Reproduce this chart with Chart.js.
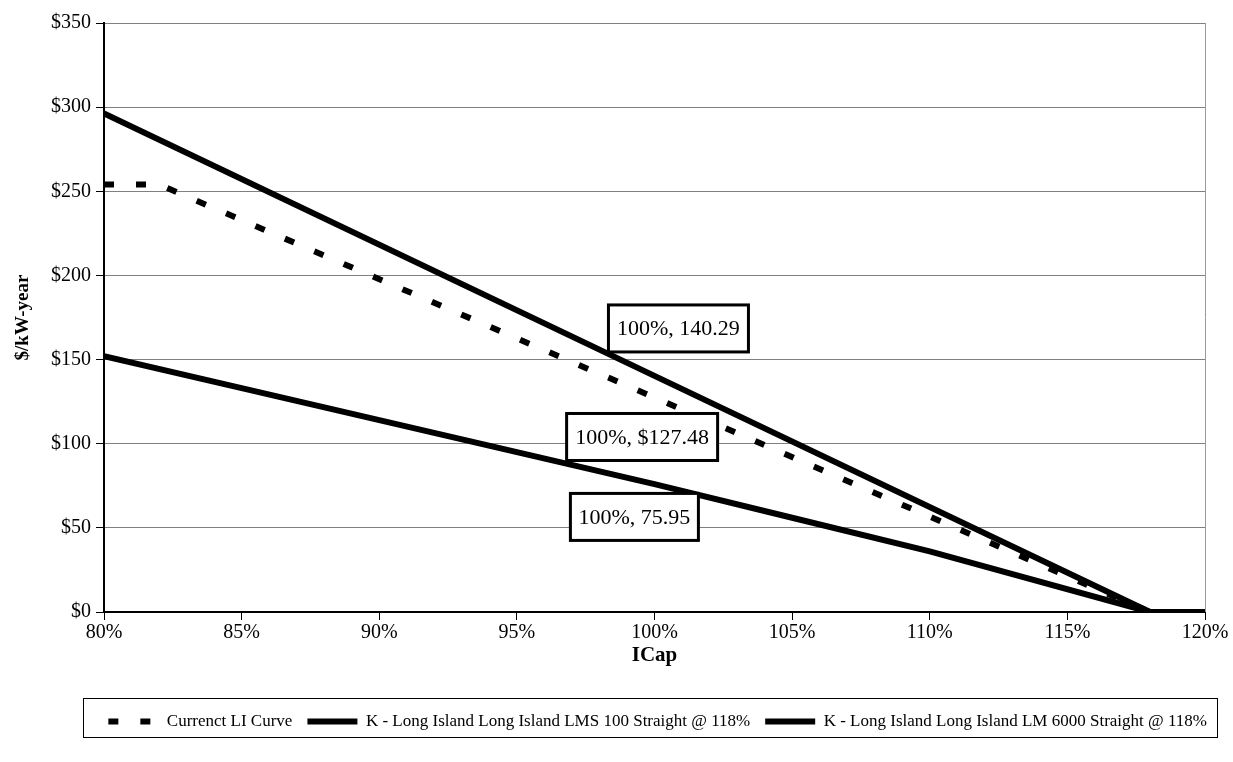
<!DOCTYPE html>
<html>
<head>
<meta charset="utf-8">
<script src="https://cdn.jsdelivr.net/npm/chart.js@4.4.0/dist/chart.umd.min.js"></script>
<style>
  html, body { margin: 0; padding: 0; background: #fff; }
  #wrap { width: 1233px; height: 762px; }
</style>
</head>
<body>
<div id="wrap"><canvas id="c" width="1233" height="762"></canvas></div>
<script>
// values (x = ICap %, y = $/kW-year)
const liCurveX = [80, 82, 100, 118, 120];
const liCurveY = [254, 254, 127.48, 0, 0];
const lms100X = [80, 100, 118, 120];
const lms100Y = [296.2, 140.29, 0, 0];
const lm6000X = [80, 85, 90, 95, 100, 105, 110, 118, 120];
const lm6000Y = [152, 133, 114, 95, 75.95, 56, 36, 0, 0];
const seriesNames = [
  "Currenct LI Curve",
  "K - Long Island Long Island LMS 100 Straight @ 118%",
  "K - Long Island Long Island LM 6000 Straight @ 118%"
];
const labelTexts = ["100%, 140.29", "100%, $127.48", "100%, 75.95"];

const serif = "'Liberation Serif', 'Times New Roman', serif";

function pts(xs, ys) { return xs.map((x, i) => ({ x: x, y: ys[i] })); }

// where the callout boxes sit, in axis units
const calloutPos = [
  { x: 100.87, y: 168.5, w: 140 },
  { x: 99.55, y: 104, w: 151 },
  { x: 99.27, y: 56.5, w: 128 }
];

const calloutPlugin = {
  id: 'callouts',
  afterDatasetsDraw(chart) {
    const ctx = chart.ctx, xs = chart.scales.x, ys = chart.scales.y;
    ctx.save();
    ctx.font = "22px " + serif;
    ctx.textAlign = 'center';
    ctx.textBaseline = 'middle';
    calloutPos.forEach((p, i) => {
      const cx = xs.getPixelForValue(p.x), cy = ys.getPixelForValue(p.y);
      const w = p.w, h = 47;
      ctx.fillStyle = '#fff';
      ctx.fillRect(cx - w / 2, cy - h / 2, w, h);
      ctx.lineWidth = 3;
      ctx.strokeStyle = '#000';
      ctx.strokeRect(cx - w / 2, cy - h / 2, w, h);
      ctx.fillStyle = '#000';
      ctx.fillText(labelTexts[i], cx, cy + 1);
    });
    ctx.restore();
  }
};

const framePlugin = {
  id: 'frame',
  afterLayout(chart) {
    // legend row sits a little further right than the plot edge
    chart.legend.right += 17;
  },
  beforeDatasetsDraw(chart) {
    const a = chart.chartArea, ctx = chart.ctx;
    ctx.save();
    ctx.strokeStyle = '#999';
    ctx.lineWidth = 1;
    ctx.beginPath();
    ctx.moveTo(a.right + 0.5, a.top);
    ctx.lineTo(a.right + 0.5, a.bottom);
    ctx.stroke();
    ctx.restore();
  },
  afterDraw(chart) {
    const lg = chart.legend, ctx = chart.ctx;
    ctx.save();
    ctx.strokeStyle = '#000';
    ctx.lineWidth = 1;
    ctx.strokeRect(83.5, lg.top + 0.5, 1134, lg.height - 3);
    ctx.restore();
  }
};

new Chart(document.getElementById('c'), {
  type: 'line',
  data: {
    datasets: [
      {
        label: seriesNames[0],
        data: pts(liCurveX, liCurveY),
        borderColor: '#000',
        backgroundColor: '#000',
        borderWidth: 6,
        borderDash: [10, 22],
        borderCapStyle: 'butt',
        pointRadius: 0,
        tension: 0
      },
      {
        label: seriesNames[1],
        data: pts(lms100X, lms100Y),
        borderColor: '#000',
        backgroundColor: '#000',
        borderWidth: 6,
        pointRadius: 0,
        tension: 0
      },
      {
        label: seriesNames[2],
        data: pts(lm6000X, lm6000Y),
        borderColor: '#000',
        backgroundColor: '#000',
        borderWidth: 6,
        pointRadius: 0,
        tension: 0
      }
    ]
  },
  options: {
    responsive: false,
    animation: false,
    layout: { padding: { left: 0, right: 28, top: 23, bottom: 22 } },
    plugins: {
      legend: {
        position: 'bottom',
        align: 'end',
        labels: {
          color: '#000',
          font: { family: serif, size: 17 },
          usePointStyle: true,
          pointStyle: 'line',
          pointStyleWidth: 50,
          padding: 15,
          generateLabels(chart) {
            const items = Chart.defaults.plugins.legend.labels.generateLabels(chart);
            items.forEach(it => {
              const ds = chart.data.datasets[it.datasetIndex];
              it.lineDash = ds.borderDash || [];
              it.lineWidth = 6;
              it.strokeStyle = '#000';
            });
            return items;
          }
        }
      },
      tooltip: { enabled: false }
    },
    scales: {
      x: {
        type: 'linear',
        min: 80,
        max: 120,
        ticks: {
          stepSize: 5,
          color: '#000',
          font: { family: serif, size: 20 },
          padding: 1,
          maxRotation: 0,
          callback: v => v + '%'
        },
        grid: { drawOnChartArea: false, color: '#000', tickLength: 8 },
        border: { color: '#000', width: 2 },
        title: {
          display: true,
          text: 'ICap',
          color: '#000',
          font: { family: serif, size: 21, weight: 'bold' },
          padding: { top: 2, bottom: 30 }
        },
        afterFit(scale) { scale.height = 86; }
      },
      y: {
        min: 0,
        max: 350,
        ticks: {
          stepSize: 50,
          color: '#000',
          font: { family: serif, size: 20 },
          padding: 5,
          callback: v => '$' + v
        },
        grid: { color: '#808080', lineWidth: 1, tickLength: 8, tickColor: '#000' },
        border: { color: '#000', width: 2 },
        title: {
          display: true,
          text: '$/kW-year',
          color: '#000',
          font: { family: serif, size: 19, weight: 'bold' },
          padding: { top: 12, bottom: 4 }
        },
        afterFit(scale) { scale.width = 104; }
      }
    }
  },
  plugins: [calloutPlugin, framePlugin]
});
</script>
</body>
</html>
